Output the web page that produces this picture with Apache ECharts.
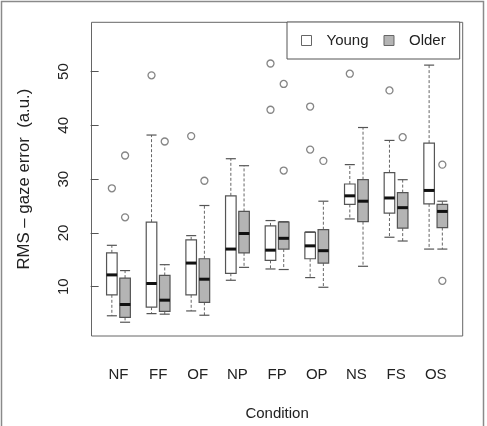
<!DOCTYPE html>
<html>
<head>
<meta charset="utf-8">
<script src="https://cdn.jsdelivr.net/npm/echarts@6/dist/echarts.min.js"></script>
<style>
html, body { margin: 0; padding: 0; background: #fff; }
#chart { width: 487px; height: 426px; }
</style>
</head>
<body>
<div id="chart"></div>
<script>
// conditions on the x axis
var categories = ['NF', 'FF', 'OF', 'NP', 'FP', 'OP', 'NS', 'FS', 'OS'];

// [lower whisker, Q1, median, Q3, upper whisker]
var youngStats = [
	[4.6, 8.5, 12.2, 16.3, 17.7],
	[5.0, 6.2, 10.6, 22.0, 38.2],
	[5.5, 8.5, 14.4, 18.7, 19.5],
	[11.2, 12.5, 17.0, 26.9, 33.8],
	[13.3, 14.9, 16.8, 21.3, 22.3],
	[11.7, 15.2, 17.6, 20.1, 20.2],
	[22.6, 25.3, 26.9, 29.1, 32.7],
	[19.2, 23.7, 26.5, 31.2, 37.2],
	[17.0, 25.4, 27.9, 36.7, 51.2]
];
var olderStats = [
	[3.4, 4.3, 6.7, 11.6, 13.0],
	[4.9, 5.4, 7.5, 12.1, 14.1],
	[4.7, 7.1, 11.4, 15.2, 25.1],
	[13.6, 16.3, 19.9, 24.0, 32.5],
	[13.2, 17.0, 19.0, 22.0, 22.1],
	[9.9, 14.4, 16.7, 20.6, 25.9],
	[13.8, 22.1, 25.9, 29.9, 39.6],
	[18.5, 20.9, 24.7, 27.5, 29.9],
	[17.0, 21.0, 24.0, 25.3, 25.9]
];

// outliers per condition
var youngOutliers = [[28.3], [49.3], [38.0], [], [51.5, 42.9], [43.5, 35.5], [49.6], [46.5], []];
var olderOutliers = [[34.4, 22.9], [37.0], [29.7], [], [47.7, 31.6], [33.4], [], [37.8], [32.7, 11.1]];

var yTicks = [10, 20, 30, 40, 50];

var boxFill = { Young: '#ffffff', Older: '#b4b4b4' };

// R style positions: young at 1,4,7..., older at 2,5,8...
function boxData(stats, offset) {
	var out = [];
	for (var i = 0; i < stats.length; i++) {
		out.push([i * 3 + offset].concat(stats[i]));
	}
	return out;
}

function outlierData(list, offset) {
	var out = [];
	for (var i = 0; i < list.length; i++) {
		for (var j = 0; j < list[i].length; j++) {
			out.push([i * 3 + offset, list[i][j]]);
		}
	}
	return out;
}

var labelPos = [];
for (var k = 0; k < categories.length; k++) {
	labelPos.push(k * 3 + 1.5);
}

function renderBox(params, api) {
	var x = api.value(0);
	var lo = api.value(1), q1 = api.value(2), med = api.value(3), q3 = api.value(4), hi = api.value(5);
	var half = 0.4;
	var staple = 0.38;
	var fill = boxFill[params.seriesName];
	var tl = api.coord([x - half, q3]);
	var br = api.coord([x + half, q1]);
	var c = function (xx, yy) { return api.coord([xx, yy]); };
	var whisk = { stroke: '#666', lineWidth: 1, lineDash: [3, 2] };
	var edge = { stroke: '#555', lineWidth: 1.2 };
	return {
		type: 'group',
		children: [
			{ type: 'line', shape: { x1: c(x, q3)[0], y1: c(x, q3)[1], x2: c(x, hi)[0], y2: c(x, hi)[1] }, style: whisk },
			{ type: 'line', shape: { x1: c(x, q1)[0], y1: c(x, q1)[1], x2: c(x, lo)[0], y2: c(x, lo)[1] }, style: whisk },
			{ type: 'line', shape: { x1: c(x - staple, hi)[0], y1: c(x, hi)[1], x2: c(x + staple, hi)[0], y2: c(x, hi)[1] }, style: edge },
			{ type: 'line', shape: { x1: c(x - staple, lo)[0], y1: c(x, lo)[1], x2: c(x + staple, lo)[0], y2: c(x, lo)[1] }, style: edge },
			{ type: 'rect', shape: { x: tl[0], y: tl[1], width: br[0] - tl[0], height: br[1] - tl[1] }, style: { fill: fill, stroke: '#555', lineWidth: 1.2 } },
			{ type: 'line', shape: { x1: tl[0], y1: c(x, med)[1], x2: br[0], y2: c(x, med)[1] }, style: { stroke: '#111', lineWidth: 3 } }
		]
	};
}

var chart = echarts.init(document.getElementById('chart'));

var option = {
	animation: false,
	textStyle: { fontFamily: 'Liberation Sans, Arial, sans-serif' },
	graphic: [{
		type: 'rect',
		shape: { x: 1.5, y: 1.5, width: 482, height: 440 },
		style: { fill: 'none', stroke: '#8a8a8a', lineWidth: 1.5 },
		silent: true
	}],
	grid: {
		left: 91.5, top: 22.3, width: 371.2, height: 315.4,
		show: true, borderColor: '#666', borderWidth: 1, backgroundColor: 'transparent'
	},
	legend: {
		left: 287, top: 22,
		orient: 'horizontal',
		padding: [11, 14, 11, 14],
		itemGap: 15,
		itemWidth: 10, itemHeight: 10,
		borderColor: '#555', borderWidth: 1,
		backgroundColor: '#fff',
		textStyle: { fontSize: 15, color: '#222', padding: [0, 0, 0, 10] },
		data: [
			{ name: 'Young', icon: 'rect', itemStyle: { color: '#fff', borderColor: '#666', borderWidth: 1 } },
			{ name: 'Older', icon: 'rect', itemStyle: { color: '#b4b4b4', borderColor: '#666', borderWidth: 1 } }
		]
	},
	xAxis: {
		type: 'value',
		min: -0.54, max: 27.54,
		splitLine: { show: false },
		axisLine: { show: false },
		axisTick: { show: false },
		axisLabel: {
			customValues: labelPos,
			margin: 31,
			fontSize: 15,
			color: '#222',
			formatter: function (v) { return categories[Math.round((v - 1.5) / 3)]; }
		},
		name: 'Condition',
		nameLocation: 'middle',
		nameGap: 70,
		nameTextStyle: { fontSize: 15, color: '#222' }
	},
	yAxis: {
		type: 'value',
		min: 0.84, max: 59.16,
		splitLine: { show: false },
		axisLine: { show: false },
		axisTick: { show: true, customValues: yTicks, length: 8, lineStyle: { color: '#555' } },
		axisLabel: { customValues: yTicks, rotate: 90, margin: 20, fontSize: 15, color: '#222' },
		name: 'RMS \u2013 gaze error  (a.u.)',
		nameLocation: 'middle',
		nameGap: 59,
		nameTextStyle: { fontSize: 16.8, color: '#222' }
	},
	series: [
		{
			name: 'Young', type: 'custom', renderItem: renderBox,
			itemStyle: { color: '#fff' },
			encode: { x: 0, y: [1, 2, 3, 4, 5] },
			data: boxData(youngStats, 1), z: 2
		},
		{
			name: 'Older', type: 'custom', renderItem: renderBox,
			itemStyle: { color: '#b4b4b4' },
			encode: { x: 0, y: [1, 2, 3, 4, 5] },
			data: boxData(olderStats, 2), z: 2
		},
		{
			name: 'Young outliers', type: 'scatter',
			symbol: 'circle', symbolSize: 7,
			itemStyle: { color: 'transparent', borderColor: '#666', borderWidth: 1.3 },
			data: outlierData(youngOutliers, 1), z: 3
		},
		{
			name: 'Older outliers', type: 'scatter',
			symbol: 'circle', symbolSize: 7,
			itemStyle: { color: 'transparent', borderColor: '#666', borderWidth: 1.3 },
			data: outlierData(olderOutliers, 2), z: 3
		}
	]
};

chart.setOption(option);
</script>
</body>
</html>
